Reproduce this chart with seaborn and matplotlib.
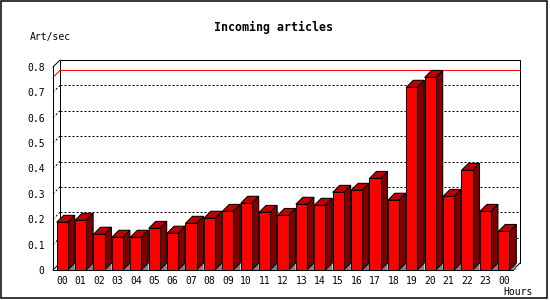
import numpy as np
import pandas as pd
import matplotlib
matplotlib.use("Agg")
import matplotlib.pyplot as plt
import seaborn as sns
from matplotlib.patches import Polygon, Rectangle

# ---- data ----
hours = ["00", "01", "02", "03", "04", "05", "06", "07", "08", "09", "10", "11",
         "12", "13", "14", "15", "16", "17", "18", "19", "20", "21", "22", "23", "00"]
rates = [0.188, 0.196, 0.141, 0.129, 0.129, 0.164, 0.145, 0.184, 0.204, 0.231,
         0.263, 0.227, 0.215, 0.259, 0.255, 0.306, 0.314, 0.361, 0.275, 0.720,
         0.759, 0.290, 0.393, 0.231, 0.152]
y_ticks = [0.0, 0.1, 0.2, 0.3, 0.4, 0.5, 0.6, 0.7, 0.8]
y_tick_labels = ["0", "0.1", "0.2", "0.3", "0.4", "0.5", "0.6", "0.7", "0.8"]
title = "Incoming articles"
y_title = "Art/sec"
x_title = "Hours"

# ---- styling ----
sns.set_style("white")
plt.rcParams["font.family"] = ["DejaVu Sans Mono"]

W, H = 550, 300
fig = plt.figure(figsize=(W / 100, H / 100), dpi=100)
fig.patch.set_facecolor("white")

# front plot area in pixels
L, R, T, B = 53, 513, 67, 270
ax = fig.add_axes([L / W, 1 - B / H, (R - L) / W, (B - T) / H])
ax.patch.set_visible(False)

df = pd.DataFrame({"slot": list(range(len(rates))), "rate": rates})
sns.barplot(data=df, x="slot", y="rate", color="#ff0000", saturation=1,
            width=0.6, edgecolor="black", linewidth=0.75, errorbar=None,
            ax=ax, zorder=3)

n = len(rates)
ax.set_xlim(-0.5, n - 0.5)
ax.set_ylim(0, 0.8)

px_x = (R - L) / n          # pixels per slot
px_y = (B - T) / 0.8        # pixels per unit value
depth = 7
dx = depth / px_x
dy = depth / px_y
lw = 0.72
x0, x1 = -0.5, n - 0.5
ymax = y_ticks[-1]

# back wall box
ax.plot([x0 + dx, x1 + dx, x1 + dx], [ymax + dy, ymax + dy, dy], color="black",
        lw=lw, clip_on=False, zorder=1)
ax.plot([x0 + dx, x0 + dx], [dy, ymax + dy], color="black", lw=lw, clip_on=False, zorder=1)
for (xa, ya) in [(x0, ymax), (x0, 0), (x1, 0)]:
    ax.plot([xa, xa + dx], [ya, ya + dy], color="black", lw=lw, clip_on=False, zorder=1)

# dotted grid on back wall
for v in y_ticks[1:-1]:
    ax.plot([x0 + dx, x1 + dx], [v + dy, v + dy], color="black", lw=lw,
            ls=(0, (2, 2)), clip_on=False, zorder=1)
    ax.plot([x0, x0 + dx], [v, v + dy], color="black", lw=lw,
            ls=(0, (2, 2)), clip_on=False, zorder=1)

# max line
mx = max(rates)
ax.plot([x0 + dx, x1 + dx], [mx + dy, mx + dy], color="#ff0000", lw=lw,
        clip_on=False, zorder=1.5)
ax.plot([x0, x0 + dx], [mx, mx + dy], color="#ff0000", lw=lw,
        clip_on=False, zorder=1.5)

# 3D sides and tops from the seaborn bars
for p in list(ax.patches):
    xl = p.get_x()
    xr = xl + p.get_width()
    h = p.get_height()
    shadow = Polygon([(xr, 0), (xr + dx, dy), (xr + dx, 0)], closed=True,
                     facecolor="#808080", edgecolor="none", clip_on=False, zorder=2)
    side = Polygon([(xr, 0), (xr, h), (xr + dx, h + dy), (xr + dx, dy)], closed=True,
                   facecolor="#800000", edgecolor="black", linewidth=0.75,
                   clip_on=False, zorder=2.5)
    top = Polygon([(xl, h), (xl + dx, h + dy), (xr + dx, h + dy), (xr, h)], closed=True,
                  facecolor="#c00000", edgecolor="black", linewidth=0.75,
                  clip_on=False, zorder=2.5)
    ax.add_patch(shadow)
    ax.add_patch(side)
    ax.add_patch(top)
    p.set_clip_on(False)

# spines / ticks
for s in ["top", "right"]:
    ax.spines[s].set_visible(False)
for s in ["left", "bottom"]:
    ax.spines[s].set_linewidth(lw)
    ax.spines[s].set_color("black")
    ax.spines[s].set_zorder(4)

ax.set_yticks(y_ticks)
ax.set_yticklabels(y_tick_labels)
ax.set_xticks(range(n))
ax.set_xticklabels(hours)
ax.set_xticks(np.arange(-0.5, n, 1), minor=True)
ax.tick_params(axis="y", direction="out", length=3, width=lw, pad=3,
               labelsize=7, colors="black")
ax.tick_params(axis="x", which="major", length=0, pad=4, labelsize=7, colors="black")
ax.tick_params(axis="x", which="minor", direction="out", length=3, width=lw)
ax.set_xlabel("")
ax.set_ylabel("")

# texts
fig.text(273 / W, 1 - 27 / H, title, ha="center", va="center",
         fontsize=8.4, fontweight="bold", color="black")
fig.text(30 / W, 1 - 37 / H, y_title, ha="left", va="center", fontsize=7, color="black")
fig.text(533 / W, 1 - 292 / H, x_title, ha="right", va="center", fontsize=7, color="black")

# outer frame
fig.add_artist(Rectangle((0.75 / W, 1 - 298 / H), 546.5 / W, 297.5 / H,
                         transform=fig.transFigure, fill=False,
                         edgecolor="black", linewidth=1.1))

fig.savefig("out.png", dpi=100, facecolor="white")
